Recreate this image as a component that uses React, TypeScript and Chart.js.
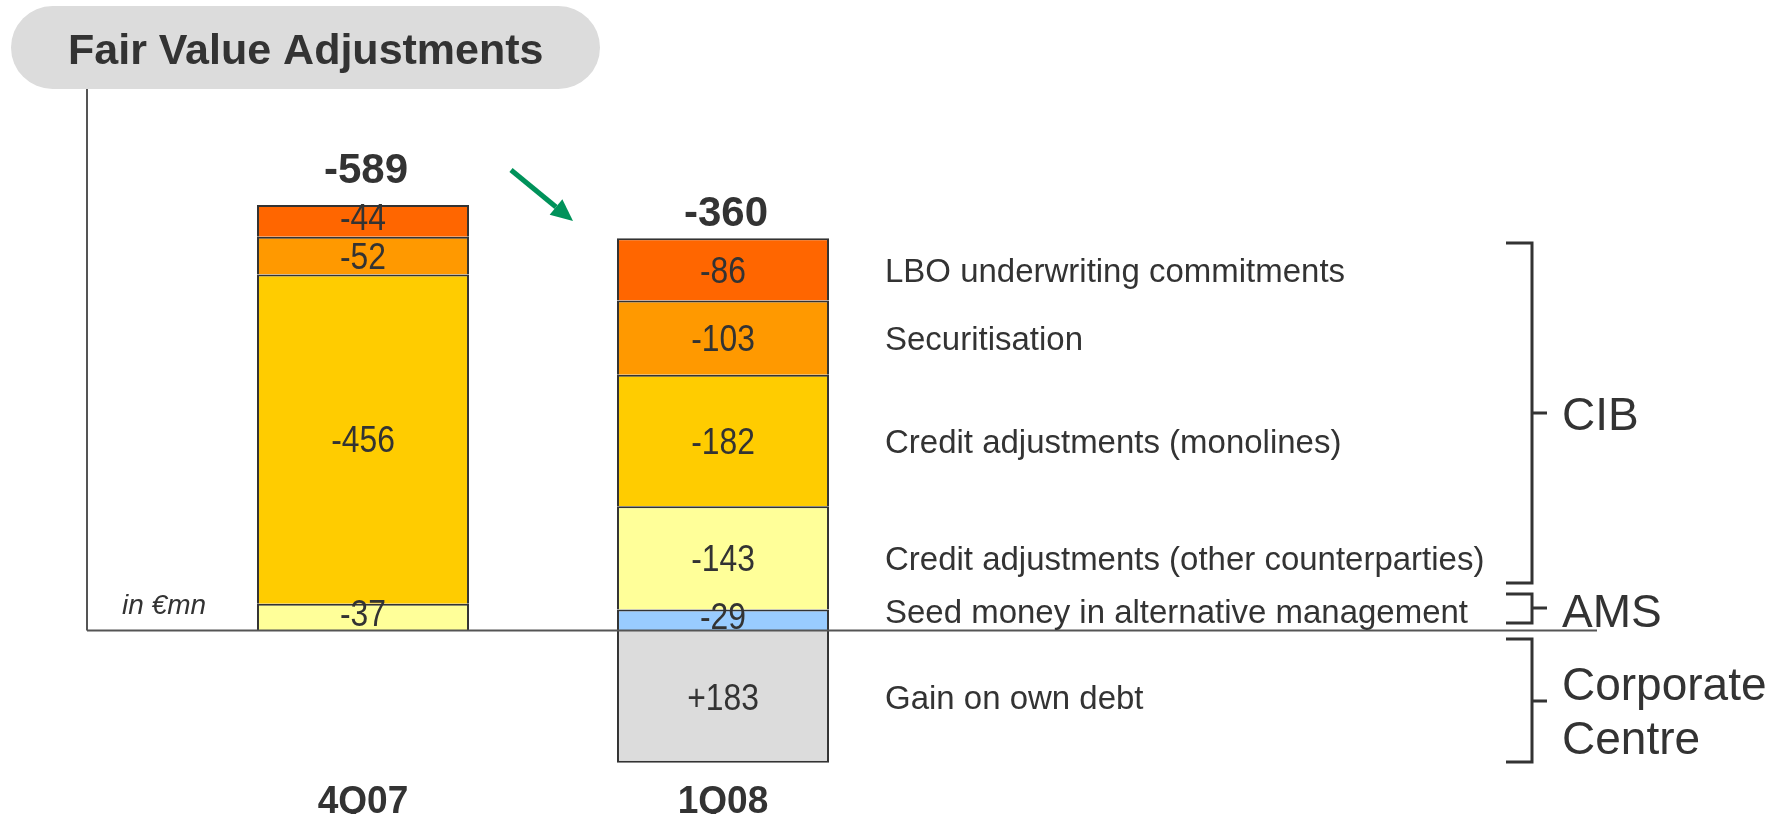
import React, { useEffect, useRef } from 'react';
import { Chart, registerables } from 'chart.js';

Chart.register(...registerables);

// ---- data ----
const categories = ['4Q07', '1Q08'];
const seriesNames = [
  'Seed money in alternative management',
  'Credit adjustments (other counterparties)',
  'Credit adjustments (monolines)',
  'Securitisation',
  'LBO underwriting commitments',
  'Gain on own debt',
];
const seedMoney: (number | null)[] = [null, -29];
const creditOther: (number | null)[] = [-37, -143];
const creditMonolines: (number | null)[] = [-456, -182];
const securitisation: (number | null)[] = [-52, -103];
const lboCommitments: (number | null)[] = [-44, -86];
const gainOnOwnDebt: (number | null)[] = [null, 183];
const totals = [-589, -360];
const seriesColors = ['#99CCFF', '#FFFF99', '#FFCC00', '#FF9900', '#FF6600', '#DCDCDC'];
const groupLabels = ['CIB', 'AMS', 'Corporate', 'Centre'];
const titleText = 'Fair Value Adjustments';
const unitText = 'in €mn';

const seriesValues = [seedMoney, creditOther, creditMonolines, securitisation, lboCommitments, gainOnOwnDebt];

const FONT = '"Liberation Sans", Arial, sans-serif';
const TXT = '#333333';
const CAP = 0.358;

// draw text so that its cap-height centre sits at cy
function capText(ctx: CanvasRenderingContext2D, text: string, x: number, cy: number, size: number, sx = 1) {
  ctx.save();
  ctx.textBaseline = 'alphabetic';
  ctx.translate(x, cy + CAP * size);
  ctx.scale(sx, 1);
  ctx.fillText(text, 0, 0);
  ctx.restore();
}

const overlay = {
  id: 'overlay',
  beforeDatasetsDraw(chart: any) {
    const ctx: CanvasRenderingContext2D = chart.ctx;
    const y0 = chart.scales.y.getPixelForValue(0);
    ctx.save();
    // title pill
    const px = 11, py = 6, pw = 589, ph = 83, r = ph / 2;
    ctx.fillStyle = '#DCDCDC';
    ctx.beginPath();
    ctx.moveTo(px + r, py);
    ctx.lineTo(px + pw - r, py);
    ctx.arc(px + pw - r, py + r, r, -Math.PI / 2, Math.PI / 2);
    ctx.lineTo(px + r, py + ph);
    ctx.arc(px + r, py + r, r, Math.PI / 2, Math.PI * 1.5);
    ctx.closePath();
    ctx.fill();
    ctx.fillStyle = TXT;
    ctx.textAlign = 'left';
    ctx.font = `bold 43px ${FONT}`;
    capText(ctx, titleText, 68, 49, 43);
    // left axis line
    ctx.strokeStyle = '#555555';
    ctx.lineWidth = 2;
    ctx.beginPath();
    ctx.moveTo(87, 89);
    ctx.lineTo(87, y0);
    ctx.stroke();
    // unit
    ctx.font = `italic 28px ${FONT}`;
    ctx.fillStyle = TXT;
    capText(ctx, unitText, 122, 604, 28);
    ctx.restore();
  },
  afterDatasetsDraw(chart: any) {
    const ctx: CanvasRenderingContext2D = chart.ctx;
    const yScale = chart.scales.y;
    const y0 = yScale.getPixelForValue(0);
    ctx.save();
    // baseline
    ctx.strokeStyle = '#555555';
    ctx.lineWidth = 2;
    ctx.beginPath();
    ctx.moveTo(87, y0);
    ctx.lineTo(1597, y0);
    ctx.stroke();

    ctx.fillStyle = TXT;
    // segment labels
    ctx.textAlign = 'center';
    ctx.font = `37px ${FONT}`;
    seriesValues.forEach((vals, i) => {
      const meta = chart.getDatasetMeta(i);
      vals.forEach((v, j) => {
        if (v == null) return;
        const el: any = meta.data[j];
        let yc = (el.y + el.base) / 2;
        if (Math.abs(el.base - el.y) < 35) yc -= 4;
        const t = v > 0 ? `+${v}` : `${v}`;
        capText(ctx, t, el.x, yc, 37, 0.86);
      });
    });
    // right-hand series labels aligned with 1Q08 segments
    ctx.textAlign = 'left';
    ctx.font = `34px ${FONT}`;
    seriesValues.forEach((vals, i) => {
      const meta = chart.getDatasetMeta(i);
      const el: any = meta.data[1];
      if (vals[1] == null) return;
      let yc = (el.y + el.base) / 2;
      if (i === 0) yc -= 9;
      capText(ctx, seriesNames[i], 885, yc, 34, 0.97);
    });
    // totals and category labels
    ctx.textAlign = 'center';
    const totalGap = [37, 27];
    categories.forEach((c, j) => {
      let top = y0;
      seriesValues.forEach((vals, i) => {
        if (vals[j] == null) return;
        const el: any = chart.getDatasetMeta(i).data[j];
        top = Math.min(top, el.y, el.base);
      });
      const x = chart.getDatasetMeta(0).data[j].x;
      ctx.font = `bold 42px ${FONT}`;
      capText(ctx, `${totals[j]}`, x + 3, top - totalGap[j], 42);
      ctx.font = `bold 39px ${FONT}`;
      capText(ctx, c, x, 799, 39, 0.95);
    });
    // green arrow
    const ax0 = 511, ay0 = 170, ax1 = 573, ay1 = 221;
    const ang = Math.atan2(ay1 - ay0, ax1 - ax0);
    const hl = 22, hw = 10;
    ctx.strokeStyle = '#00925A';
    ctx.fillStyle = '#00925A';
    ctx.lineWidth = 5;
    ctx.beginPath();
    ctx.moveTo(ax0, ay0);
    ctx.lineTo(ax1 - hl * Math.cos(ang), ay1 - hl * Math.sin(ang));
    ctx.stroke();
    ctx.beginPath();
    ctx.moveTo(ax1, ay1);
    ctx.lineTo(ax1 - hl * Math.cos(ang) + hw * Math.sin(ang), ay1 - hl * Math.sin(ang) - hw * Math.cos(ang));
    ctx.lineTo(ax1 - hl * Math.cos(ang) - hw * Math.sin(ang), ay1 - hl * Math.sin(ang) + hw * Math.cos(ang));
    ctx.closePath();
    ctx.fill();
    // brackets
    ctx.strokeStyle = '#333333';
    ctx.lineWidth = 3;
    const bx = 1532, bl = 1506, tickEnd = 1547;
    const brackets = [
      [243, 583, 413],
      [594, 623, 608],
      [639, 762, 701],
    ];
    brackets.forEach(([t, b, m]) => {
      ctx.beginPath();
      ctx.moveTo(bl, t);
      ctx.lineTo(bx, t);
      ctx.lineTo(bx, b);
      ctx.lineTo(bl, b);
      ctx.moveTo(bx, m);
      ctx.lineTo(tickEnd, m);
      ctx.stroke();
    });
    ctx.fillStyle = TXT;
    ctx.textAlign = 'left';
    ctx.font = `46px ${FONT}`;
    capText(ctx, groupLabels[0], 1562, 414, 46);
    capText(ctx, groupLabels[1], 1562, 611, 46);
    capText(ctx, groupLabels[2], 1562, 684, 46);
    capText(ctx, groupLabels[3], 1562, 738, 46);
    ctx.restore();
  },
};

export default function App() {
  const ref = useRef<HTMLCanvasElement | null>(null);
  useEffect(() => {
    if (!ref.current) return;
    const chart = new Chart(ref.current, {
      type: 'bar',
      data: {
        labels: categories,
        datasets: seriesValues.map((vals, i) => ({
          label: seriesNames[i],
          data: vals.map((v) => (v == null ? null : -v)),
          backgroundColor: seriesColors[i],
          borderColor: '#333333',
          borderWidth: 2,
          barPercentage: 0.589,
          categoryPercentage: 1,
        })),
      },
      options: {
        responsive: false,
        animation: false,
        layout: { padding: { left: 183, right: 888, top: 161, bottom: 39 } },
        scales: {
          x: { display: false, stacked: true },
          y: { display: false, stacked: true, min: -200, max: 650 },
        },
        plugins: { legend: { display: false }, tooltip: { enabled: false } },
      },
      plugins: [overlay],
    } as any);
    return () => chart.destroy();
  }, []);
  return (
    <div style={{ position: 'fixed', left: 0, top: 0, width: 1791, height: 814, background: '#ffffff' }}>
      <canvas ref={ref} width={1791} height={814} style={{ display: 'block' }} />
    </div>
  );
}
